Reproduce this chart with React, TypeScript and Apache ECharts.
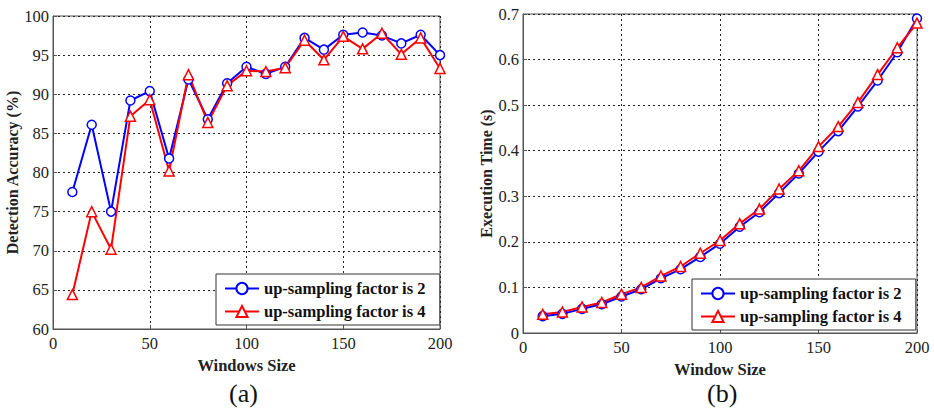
import React, { useEffect, useRef } from "react";
import * as echarts from "echarts";

const windowSizes = [10, 20, 30, 40, 50, 60, 70, 80, 90, 100, 110, 120, 130, 140, 150, 160, 170, 180, 190, 200];
const accuracyFactor2 = [77.5, 86.1, 75.0, 89.2, 90.4, 81.8, 91.9, 86.8, 91.4, 93.5, 92.6, 93.5, 97.2, 95.7, 97.6, 97.9, 97.5, 96.5, 97.6, 95.0];
const accuracyFactor4 = [64.4, 75.0, 70.2, 87.2, 89.3, 80.2, 92.5, 86.4, 91.1, 93.0, 92.9, 93.4, 96.9, 94.4, 97.4, 95.8, 97.8, 95.1, 97.2, 93.3];
const timeFactor2 = [0.037, 0.042, 0.053, 0.063, 0.080, 0.096, 0.120, 0.140, 0.167, 0.196, 0.233, 0.265, 0.307, 0.350, 0.398, 0.443, 0.497, 0.554, 0.616, 0.690];
const timeFactor4 = [0.041, 0.046, 0.057, 0.067, 0.085, 0.100, 0.125, 0.146, 0.175, 0.203, 0.240, 0.272, 0.316, 0.356, 0.409, 0.453, 0.506, 0.567, 0.626, 0.680];
const seriesNames = ["up-sampling factor is 2", "up-sampling factor is 4"];
const panelLabels = ["(a)", "(b)"];

const FONT = "Liberation Serif";
const BLUE = "#0000ff";
const RED = "#ff0000";

export default function App() {
  const ref = useRef<HTMLDivElement>(null);
  useEffect(() => {
    if (!ref.current) return;
    const chart = echarts.init(ref.current, undefined, { renderer: "svg" });
    const pair = (ys: number[]) => windowSizes.map((x, i) => [x, ys[i]]);

    const xAxisBase = (gridIndex: number, name: string, nameGap: number) => ({
      type: "value",
      gridIndex,
      min: 0,
      max: 200,
      interval: 50,
      name,
      nameLocation: "middle",
      nameGap,
      nameTextStyle: { fontFamily: FONT, fontSize: 16.5, fontWeight: "bold", color: "#222" },
      axisLine: { show: true, lineStyle: { color: "#555", width: 1 } },
      axisTick: { show: true, inside: true, length: 4, lineStyle: { color: "#555" } },
      axisLabel: { fontFamily: FONT, fontSize: 16.5, color: "#222", margin: 6 },
      splitLine: { show: true, lineStyle: { color: "#222", type: [2, 3], width: 1 } },
    });
    const yAxisBase = (gridIndex: number, name: string, min: number, max: number, interval: number, nameGap: number) => ({
      type: "value",
      gridIndex,
      min,
      max,
      interval,
      name,
      nameLocation: "middle",
      nameGap,
      nameTextStyle: { fontFamily: FONT, fontSize: 16, fontWeight: "bold", color: "#222" },
      axisLine: { show: true, lineStyle: { color: "#555", width: 1 } },
      axisTick: { show: true, inside: true, length: 4, lineStyle: { color: "#555" } },
      axisLabel: { fontFamily: FONT, fontSize: 16.5, color: "#222", margin: 4 },
      splitLine: { show: true, lineStyle: { color: "#222", type: [2, 3], width: 1 } },
    });

    const mkSeries = (name: string, data: number[], color: string, symbol: string, xi: number) => ({
      type: "line",
      name,
      xAxisIndex: xi,
      yAxisIndex: xi,
      data: pair(data),
      symbol,
      symbolSize: symbol === "circle" ? 9 : 10,
      showSymbol: true,
      lineStyle: { color, width: 2 },
      itemStyle: { color: "#fff", borderColor: color, borderWidth: 1.5 },
      color,
    });

    const legendBase = {
      orient: "vertical",
      backgroundColor: "#fff",
      borderColor: "#333",
      borderWidth: 1,
      padding: [6, 14, 5, 8],
      itemGap: 6,
      itemWidth: 34,
      itemHeight: 14,
      textStyle: { fontFamily: FONT, fontSize: 16.5, fontWeight: "bold", color: "#111" },
    };

    chart.setOption({
      animation: false,
      backgroundColor: "#fff",
      textStyle: { fontFamily: FONT },
      grid: [
        { left: 53, top: 16, width: 387, height: 313, show: true, borderColor: "#555", borderWidth: 1, backgroundColor: "transparent" },
        { left: 523, top: 14, width: 394, height: 319, show: true, borderColor: "#555", borderWidth: 1, backgroundColor: "transparent" },
      ],
      xAxis: [xAxisBase(0, "Windows Size", 24), xAxisBase(1, "Window Size", 22)],
      yAxis: [
        yAxisBase(0, "Detection Accuracy (%)", 60, 100, 5, 33),
        yAxisBase(1, "Execution Time (s)", 0, 0.7, 0.1, 29),
      ],
      legend: [
        { ...legendBase, left: 216, top: 274, data: seriesNames.map((n) => n) },
        { ...legendBase, left: 692, top: 279, data: seriesNames.map((n) => n) },
      ],
      series: [
        mkSeries(seriesNames[0], accuracyFactor2, BLUE, "circle", 0),
        mkSeries(seriesNames[1], accuracyFactor4, RED, "triangle", 0),
        mkSeries(seriesNames[0], timeFactor2, BLUE, "circle", 1),
        mkSeries(seriesNames[1], timeFactor4, RED, "triangle", 1),
      ],
      graphic: [
        { type: "text", left: 229, top: 380, style: { text: panelLabels[0], font: `26px ${FONT}`, fill: "#111" } },
        { type: "text", left: 707, top: 380, style: { text: panelLabels[1], font: `26px ${FONT}`, fill: "#111" } },
      ],
    });
    return () => chart.dispose();
  }, []);
  return <div ref={ref} style={{ position: "fixed", left: 0, top: 0, width: 934, height: 408 }} />;
}
